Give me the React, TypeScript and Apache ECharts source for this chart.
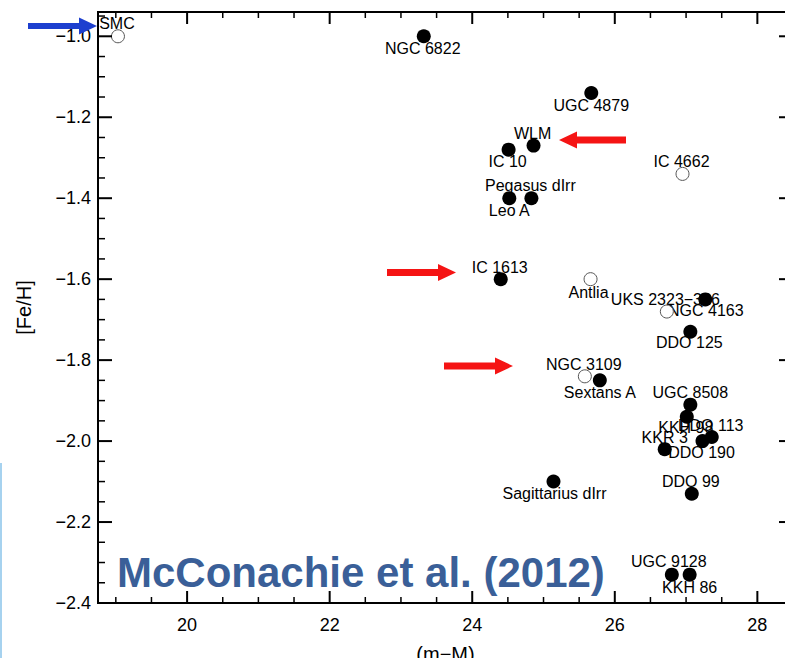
import React, { useEffect, useRef } from "react";
import * as echarts from "echarts";

// ---- data ----
const galaxies = [
  "SMC", "NGC 6822", "UGC 4879", "WLM", "IC 10", "IC 4662", "Pegasus dIrr", "Leo A",
  "IC 1613", "Antlia", "UKS 2323−326", "NGC 4163", "DDO 125", "NGC 3109", "Sextans A",
  "UGC 8508", "KKH 98", "DDO 113", "DDO 190", "KKR 3", "DDO 99", "Sagittarius dIrr",
  "UGC 9128", "KKH 86",
];
const distanceModulus = [
  19.03, 23.32, 25.67, 24.86, 24.51, 26.95, 24.83, 24.52,
  24.40, 25.66, 27.27, 26.73, 27.06, 25.58, 25.79,
  27.06, 27.01, 27.36, 27.23, 26.70, 27.08, 25.14,
  26.80, 27.05,
];
const metallicity = [
  -1.00, -1.00, -1.14, -1.27, -1.28, -1.34, -1.40, -1.40,
  -1.60, -1.60, -1.65, -1.68, -1.73, -1.84, -1.85,
  -1.91, -1.94, -1.99, -2.00, -2.02, -2.13, -2.10,
  -2.33, -2.33,
];
const openSymbol = ["SMC", "IC 4662", "Antlia", "NGC 4163", "NGC 3109"];

const xTickLabels = [20, 22, 24, 26, 28];
const yTickLabels = [-2.4, -2.2, -2.0, -1.8, -1.6, -1.4, -1.2, -1.0];

// ---- layout (label placement, px offsets from point centre) ----
const labelOffsets: [number, number][] = [
  [-1, -13], [-1, 12], [0, 13], [-1, -12], [-1, 12], [-1, -12], [-1, -13], [0, 12],
  [-1, -12], [-2, 13], [-40, 0], [39, -1], [-1, 11], [-1, -12], [0, 12],
  [0, -12], [-1, 11], [-1, -12], [-1, 11], [0, -12], [-1, -12], [1, 12],
  [-3, -13], [0, 13],
];

const X_MIN = 18.75, X_MAX = 28.5, Y_MIN = -2.4, Y_MAX = -0.94;

function range(a: number, b: number, step: number) {
  const out: number[] = [];
  for (let v = a; v <= b + 1e-9; v += step) out.push(Math.round(v * 1000) / 1000);
  return out;
}
const xMinor = range(19, 28.5, 0.5).filter((v) => !xTickLabels.includes(v));
const yMinor = range(-2.4, -0.95, 0.05).filter((v) => !yTickLabels.some((t) => Math.abs(t - v) < 1e-6));

const FONT = "'Liberation Sans', Arial, Helvetica, sans-serif";
const fmtNum = (v: number) => (v < 0 ? "−" + Math.abs(v).toFixed(1) : v.toFixed(1));

function arrow(tail: number, tip: number, cy: number, color: string) {
  const dir = tip > tail ? 1 : -1;
  const base = tip - dir * 18;
  const sh = 3.5, hh = 8.5;
  return {
    type: "polygon",
    silent: true,
    shape: {
      points: [
        [tail, cy - sh], [base, cy - sh], [base, cy - hh], [tip, cy],
        [base, cy + hh], [base, cy + sh], [tail, cy + sh],
      ],
    },
    style: { fill: color },
    z: 100,
  };
}

export default function App() {
  const ref = useRef<HTMLDivElement>(null);
  useEffect(() => {
    if (!ref.current) return;
    const chart = echarts.init(ref.current, undefined, { renderer: "svg" });

    const pts = galaxies.map((name, i) => ({
      name,
      value: [distanceModulus[i], metallicity[i]],
      open: openSymbol.includes(name),
      offset: labelOffsets[i],
    }));

    const decor: any[] = [
      {
        type: "rect",
        silent: true,
        shape: { x: 0, y: 463, width: 2, height: 195 },
        style: { fill: "#a6d2ef" },
        z: 100,
      },
      {
        type: "polygon",
        silent: true,
        shape: {
          points: [[28, 23], [79, 23], [79, 17.5], [97, 26], [79, 34.5], [79, 29], [28, 29]],
        },
        style: { fill: "#1d3fcf" },
        z: 100,
      },
      arrow(626, 559, 140, "#f51414"),
      arrow(387, 456, 272.5, "#f51414"),
      arrow(444, 513, 366, "#f51414"),
      {
        type: "text",
        silent: true,
        x: 117,
        y: 572,
        z: 100,
        style: {
          text: "McConachie et al. (2012)",
          font: "bold 42px 'Liberation Sans', Arial, sans-serif",
          fill: "#3a5f98",
          textAlign: "left",
          textVerticalAlign: "middle",
        },
      },
    ];

    chart.setOption({
      animation: false,
      backgroundColor: "#fff",
      grid: {
        left: 98, top: 12, right: 0, bottom: 55,
        containLabel: false,
        outerBoundsMode: "none",
      },
      xAxis: {
        type: "value",
        min: X_MIN,
        max: X_MAX,
        name: "(m−M)",
        nameLocation: "middle",
        nameGap: 41,
        nameTextStyle: { fontSize: 20, color: "#000", fontFamily: FONT },
        splitLine: { show: false },
        axisLine: { show: false, onZero: false },
        axisTick: { show: false },
        axisLabel: {
          show: true, customValues: xTickLabels, fontSize: 18, color: "#000",
          fontFamily: FONT, margin: 13, formatter: (v: number) => String(v),
        },
      },
      yAxis: {
        type: "value",
        min: Y_MIN,
        max: Y_MAX,
        name: "[Fe/H]",
        nameLocation: "middle",
        nameGap: 64,
        nameRotate: 90,
        nameTextStyle: { fontSize: 20, color: "#000", fontFamily: FONT },
        splitLine: { show: false },
        axisLine: { show: false, onZero: false },
        axisTick: { show: false },
        axisLabel: {
          show: true, customValues: yTickLabels, fontSize: 18, color: "#000",
          fontFamily: FONT, margin: 7, formatter: (v: number) => fmtNum(v),
        },
      },
      series: [
        {
          name: "labels",
          type: "scatter",
          z: 2,
          symbolSize: 1,
          silent: true,
          itemStyle: { color: "transparent", opacity: 1 },
          data: pts.map((p) => ({
            name: p.name,
            value: p.value,
            label: {
              show: true,
              position: "inside",
              offset: p.offset,
              formatter: p.name,
              fontSize: 16,
              color: "#000",
              fontFamily: FONT,
            },
          })),
        },
        {
          name: "filled",
          type: "scatter",
          z: 4,
          symbol: "circle",
          symbolSize: 14,
          itemStyle: { color: "#000", opacity: 1 },
          data: pts.filter((p) => !p.open).map((p) => ({ name: p.name, value: p.value })),
        },
        {
          name: "open",
          type: "scatter",
          z: 4,
          symbol: "circle",
          symbolSize: 13,
          itemStyle: { color: "#fff", borderColor: "#555", borderWidth: 1, opacity: 1 },
          data: pts.filter((p) => p.open).map((p) => ({ name: p.name, value: p.value })),
        },
      ],
      graphic: decor,
    });

    // frame and ticks, positioned through the chart's own scales
    const P = (x: number, y: number) =>
      chart.convertToPixel({ xAxisIndex: 0, yAxisIndex: 0 }, [x, y]) as number[];
    const lt = P(X_MIN, Y_MAX);
    const rb = P(X_MAX, Y_MIN);
    const L = lt[0], T = lt[1], R = rb[0], B = rb[1];
    const bar = (x: number, y: number, w: number, h: number) => ({
      type: "rect",
      silent: true,
      z: 90,
      shape: { x, y, width: w, height: h },
      style: { fill: "#000" },
    });
    const frame: any[] = [
      bar(L - 1, T - 1, 2, B - T + 2),
      bar(L - 1, T - 1, R - L + 2, 2),
      bar(L - 1, B - 1, R - L + 2, 2),
      bar(R - 1, T - 1, 2, B - T + 2),
    ];
    xTickLabels.forEach((v) => {
      const px = P(v, Y_MIN)[0];
      frame.push(bar(px - 1, B - 12, 2, 12), bar(px - 1, T, 2, 12));
    });
    xMinor.forEach((v) => {
      const px = P(v, Y_MIN)[0];
      frame.push(bar(px - 0.75, B - 6, 1.5, 6), bar(px - 0.75, T, 1.5, 6));
    });
    yTickLabels.forEach((v) => {
      const py = P(X_MIN, v)[1];
      frame.push(bar(L, py - 1, 14, 2), bar(R - 14, py - 1, 14, 2));
    });
    yMinor.forEach((v) => {
      const py = P(X_MIN, v)[1];
      frame.push(bar(L, py - 0.75, 7, 1.5), bar(R - 7, py - 0.75, 7, 1.5));
    });

    chart.setOption({ graphic: [...decor, ...frame] });

    return () => chart.dispose();
  }, []);
  return (
    <div
      style={{
        position: "absolute", left: 0, top: 0, width: 785, height: 658,
        overflow: "hidden", background: "#fff",
      }}
    >
      <div ref={ref} style={{ width: 793, height: 658 }} />
    </div>
  );
}
